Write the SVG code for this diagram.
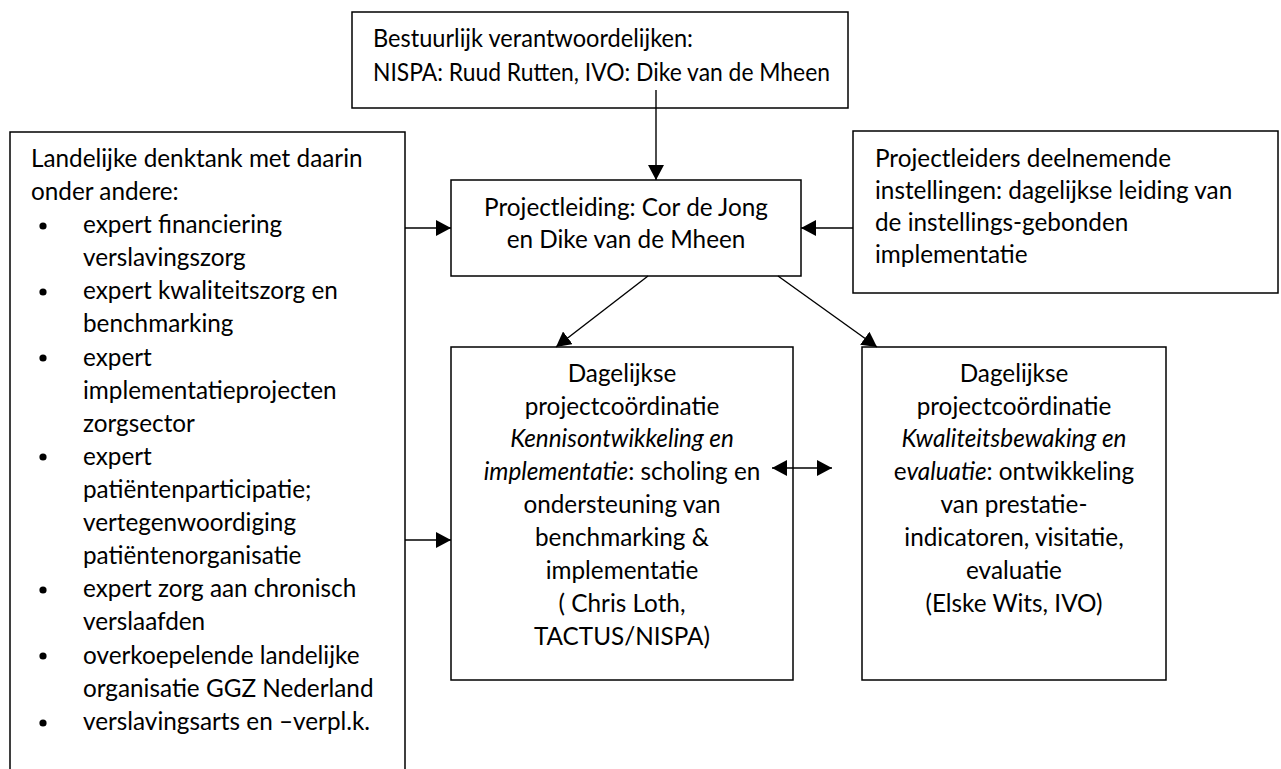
<svg xmlns="http://www.w3.org/2000/svg" width="1281" height="769" viewBox="0 0 1281 769">
<style>
.box{fill:#fff;stroke:#000;stroke-width:1.5}
.t{font-family:Lato,"Liberation Sans",sans-serif;font-size:24.3px;fill:#000}
.c{text-anchor:middle}
.ln{stroke:#000;stroke-width:1.4;fill:none}
</style>
<defs>
<marker id="ah" markerUnits="userSpaceOnUse" markerWidth="16" markerHeight="16" refX="15" refY="8" orient="auto-start-reverse" viewBox="0 0 16 16">
<path d="M0,0 L15,8 L0,16 Z" fill="#000"/>
</marker>
</defs>
<rect width="1281" height="769" fill="#fff"/>
<g id="top">
<rect class="box" x="352" y="12" width="496" height="96"/>
<text class="t" x="373" y="47" textLength="320" lengthAdjust="spacingAndGlyphs">Bestuurlijk verantwoordelijken:</text>
<text class="t" x="373" y="81" textLength="457" lengthAdjust="spacingAndGlyphs">NISPA: Ruud Rutten, IVO: Dike van de Mheen</text>
</g>
<g id="left">
<path class="box" d="M10,780 V132 H405 V780"/>
<g class="t">
<text x="31" y="167">Landelijke denktank met daarin</text>
<text x="31" y="200">onder andere:</text>
<text x="83" y="233">expert financiering</text>
<text x="83" y="266">verslavingszorg</text>
<text x="83" y="299">expert kwaliteitszorg en</text>
<text x="83" y="332">benchmarking</text>
<text x="83" y="366">expert</text>
<text x="83" y="399">implementatieprojecten</text>
<text x="83" y="432">zorgsector</text>
<text x="83" y="465">expert</text>
<text x="83" y="498">patiëntenparticipatie;</text>
<text x="83" y="531">vertegenwoordiging</text>
<text x="83" y="564">patiëntenorganisatie</text>
<text x="83" y="597">expert zorg aan chronisch</text>
<text x="83" y="630">verslaafden</text>
<text x="83" y="664">overkoepelende landelijke</text>
<text x="83" y="697">organisatie GGZ Nederland</text>
<text x="83" y="730">verslavingsarts en –verpl.k.</text>
</g>
<g fill="#000">
<circle cx="43" cy="226" r="3.6"/>
<circle cx="43" cy="292" r="3.6"/>
<circle cx="43" cy="358" r="3.6"/>
<circle cx="43" cy="457" r="3.6"/>
<circle cx="43" cy="590" r="3.6"/>
<circle cx="43" cy="656" r="3.6"/>
<circle cx="43" cy="723" r="3.6"/>
</g>
</g>
<g id="lead">
<rect class="box" x="451" y="180" width="350" height="96"/>
<text class="t c" x="626" y="216">Projectleiding: Cor de Jong</text>
<text class="t c" x="626" y="248">en Dike van de Mheen</text>
</g>
<g id="right">
<rect class="box" x="853" y="131" width="425" height="162"/>
<text class="t" x="875" y="167">Projectleiders deelnemende</text>
<text class="t" x="875" y="199">instellingen: dagelijkse leiding van</text>
<text class="t" x="875" y="231">de instellings-gebonden</text>
<text class="t" x="875" y="263">implementatie</text>
</g>
<g id="kennis">
<rect class="box" x="451" y="347" width="342" height="333"/>
<g class="t c">
<text x="622" y="382">Dagelijkse</text>
<text x="622" y="415">projectcoördinatie</text>
<text x="622" y="447" font-style="italic">Kennisontwikkeling en</text>
<text x="622" y="480"><tspan font-style="italic">implementatie</tspan>: scholing en</text>
<text x="622" y="513">ondersteuning van</text>
<text x="622" y="546">benchmarking &amp;</text>
<text x="622" y="579">implementatie</text>
<text x="622" y="612">( Chris Loth,</text>
<text x="622" y="645">TACTUS/NISPA)</text>
</g>
</g>
<g id="kwaliteit">
<rect class="box" x="862" y="347" width="304" height="333"/>
<g class="t c">
<text x="1014" y="382">Dagelijkse</text>
<text x="1014" y="415">projectcoördinatie</text>
<text x="1014" y="447" font-style="italic">Kwaliteitsbewaking en</text>
<text x="1014" y="480">e<tspan font-style="italic">valuatie</tspan>: ontwikkeling</text>
<text x="1014" y="513">van prestatie-</text>
<text x="1014" y="546">indicatoren, visitatie,</text>
<text x="1014" y="579">evaluatie</text>
<text x="1014" y="612">(Elske Wits, IVO)</text>
</g>
</g>
<g id="connectors">
<line class="ln" x1="656" y1="90" x2="656" y2="180" marker-end="url(#ah)"/>
<line class="ln" x1="405" y1="228" x2="451" y2="228" marker-end="url(#ah)"/>
<line class="ln" x1="853" y1="228" x2="801" y2="228" marker-end="url(#ah)"/>
<line class="ln" x1="648" y1="276" x2="556" y2="347" marker-end="url(#ah)"/>
<line class="ln" x1="778" y1="276" x2="877" y2="347" marker-end="url(#ah)"/>
<line class="ln" x1="405" y1="540" x2="451" y2="540" marker-end="url(#ah)"/>
<line class="ln" x1="772" y1="468" x2="832" y2="468" marker-start="url(#ah)" marker-end="url(#ah)"/>
</g>
</svg>
